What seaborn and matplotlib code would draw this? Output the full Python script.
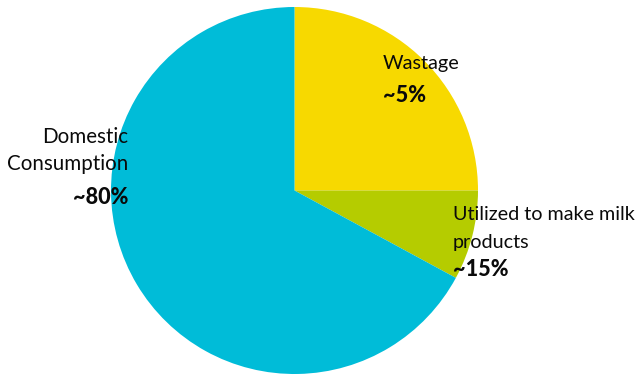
import matplotlib
matplotlib.use("Agg")
import matplotlib.pyplot as plt
import seaborn as sns

# Slices of the pie, clockwise from 12 o'clock
categories = ["Wastage", "Utilized to make milk\nproducts", "Domestic\nConsumption"]
shares = [25.0, 7.9, 67.1]
share_labels = ["~5%", "~15%", "~80%"]
colors = ["#F7D900", "#B5CC00", "#00BCD8"]

sns.set_theme(style="white")
plt.rcParams["font.family"] = ["Lato", "DejaVu Sans"]

W, H, DPI = 635, 376, 100
fig = plt.figure(figsize=(W / DPI, H / DPI), dpi=DPI)
ax = fig.add_axes([0, 0, 1, 1])

cx, cy, r = 294.5, 190.5, 183.5  # pie centre and radius in pixels

ax.pie(shares, colors=sns.color_palette(colors), startangle=90,
       counterclock=False, radius=1.0, center=(0, 0),
       wedgeprops=dict(linewidth=0))


def px(x, y):
    return (x - cx) / r, (cy - y) / r


ax.set_xlim(px(0, 0)[0], px(W, 0)[0])
ax.set_ylim(px(0, H)[1], px(0, 0)[1])
ax.set_aspect("auto")
ax.axis("off")

# (anchor x, first-line y, percent y, alignment, name size) per label
label_pos = [(383, 63, 95, "left", 14.3),
             (453, 215, 270, "left", 14.2),
             (128, 137, 198, "right", 14.8)]
line_gap = 27.5
for name, pct, (x, y, py, ha, fs) in zip(categories, share_labels, label_pos):
    for i, line in enumerate(name.split("\n")):
        ax.text(*px(x, y + i * line_gap), line, ha=ha, va="center",
                fontsize=fs, color="#0a0a0a")
    ax.text(*px(x, py), pct, ha=ha, va="center", fontsize=15.6,
            fontweight=900, color="#0a0a0a")

fig.savefig("out.png", dpi=DPI, facecolor="white")
